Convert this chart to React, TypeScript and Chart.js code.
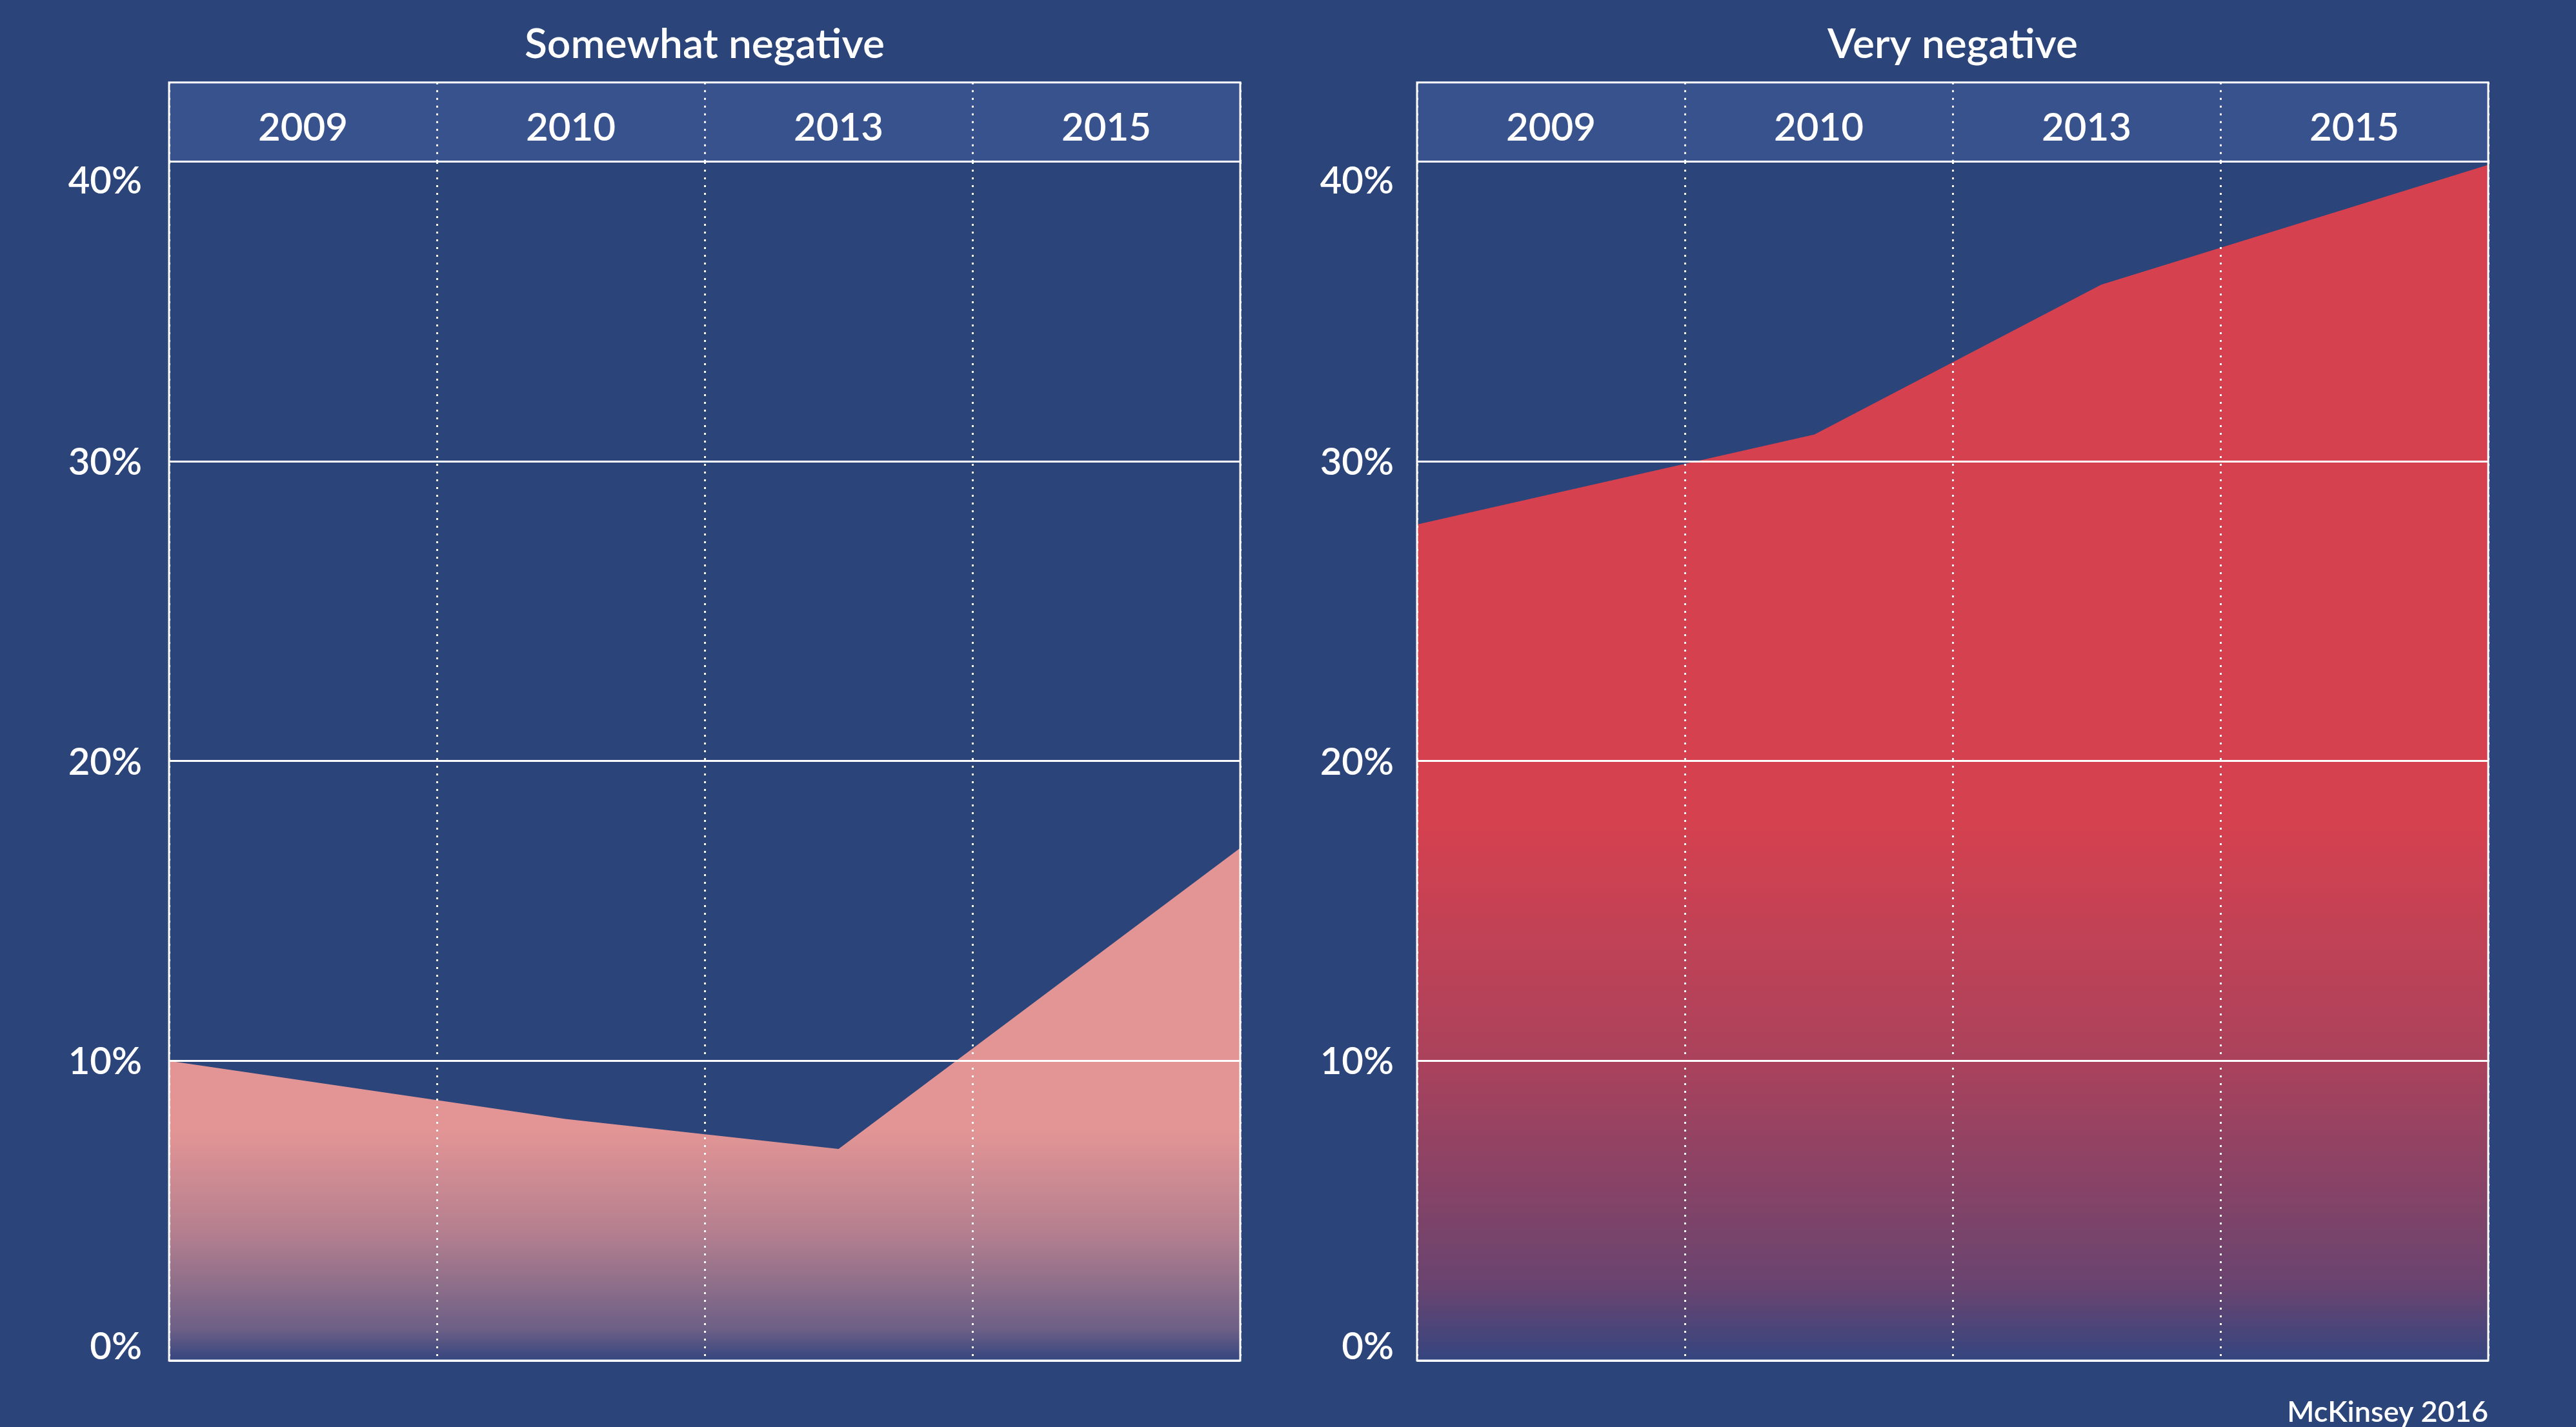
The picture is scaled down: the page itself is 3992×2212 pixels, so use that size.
import React, { useEffect, useRef } from 'react';
import { Chart, registerables } from 'chart.js';

Chart.register(...registerables);

// Column headers shared by both panels
const years = ['2009', '2010', '2013', '2015'];

// Percentage axis
const yMin = 0;
const yMax = 40;
const yStep = 10;

// "Somewhat negative" series: position along the 4 year columns and share (%)
const somewhatPos = [0, 1.48, 2.5, 4];
const somewhatValues = [10.0, 8.06, 7.06, 17.1];

// "Very negative" series
const veryPos = [0, 1.484, 2.555, 4];
const veryValues = [27.9, 30.9, 35.9, 39.9];

const FONT = "Lato, 'Open Sans', 'DejaVu Sans', sans-serif";
const WEIGHT = '600';
const BG = '#2B4479';
const HEADER_BG = '#38528E';
const FADE_BASE = '#34457F';
const WHITE = '#FFFFFF';

// Vertical fade of the area fill: [position from baseline (0) to series peak (1), share of base colour]
const fadeStops: [number, number][] = [
  [0, 1],
  [0.06, 0.68],
  [0.15, 0.48],
  [0.25, 0.27],
  [0.45, 0],
  [1, 0],
];

const CANVAS_W = 1996;
const CANVAS_H = 2212;
const HEADER_H = 123;

function hexToRgb(hex: string) {
  const h = hex.replace('#', '');
  return [0, 2, 4].map((i) => parseInt(h.slice(i, i + 2), 16));
}

function mix(a: string, b: string, t: number) {
  const ca = hexToRgb(a);
  const cb = hexToRgb(b);
  const c = ca.map((v, i) => Math.round(v * (1 - t) + cb[i] * t));
  return `rgb(${c[0]}, ${c[1]}, ${c[2]})`;
}

// Draws the header band, the white frame and the clamped percentage labels
const panelFrame = {
  id: 'panelFrame',
  beforeDraw(chart: any) {
    const { ctx, chartArea } = chart;
    const top = chart.scales.xTop;
    if (!chartArea || !top) return;
    ctx.save();
    ctx.fillStyle = HEADER_BG;
    ctx.fillRect(chartArea.left, top.top, chartArea.right - chartArea.left, top.bottom - top.top);
    ctx.restore();
  },
  afterDraw(chart: any, _args: any, opts: any) {
    const { ctx, chartArea } = chart;
    const top = chart.scales.xTop;
    const y = chart.scales.y;
    if (!chartArea || !top || !y) return;
    ctx.save();
    ctx.strokeStyle = WHITE;
    ctx.lineWidth = 3;
    ctx.strokeRect(chartArea.left, top.top, chartArea.right - chartArea.left, chartArea.bottom - top.top);

    const size = opts.labelSize || 58;
    const capH = 0.72 * size;
    ctx.fillStyle = WHITE;
    ctx.font = `${WEIGHT} ${size}px ${FONT}`;
    ctx.textAlign = 'right';
    ctx.textBaseline = 'alphabetic';
    y.ticks.forEach((t: any) => {
      const px = y.getPixelForValue(t.value);
      let base = px + capH / 2;
      base = Math.max(base, chartArea.top + 7 + capH);
      base = Math.min(base, chartArea.bottom - 2);
      ctx.fillText(`${t.value}%`, chartArea.left - opts.labelGap, base);
    });
    ctx.restore();
  },
};

type PanelProps = {
  title: string;
  pos: number[];
  values: number[];
  color: string;
  padLeft: number;
  padRight: number;
  labelGap: number;
  footer?: string;
};

function Panel({ title, pos, values, color, padLeft, padRight, labelGap, footer }: PanelProps) {
  const ref = useRef<HTMLCanvasElement | null>(null);

  useEffect(() => {
    if (!ref.current) return;
    const peak = Math.max(...values);
    const chart = new Chart(ref.current, {
      type: 'line',
      data: {
        datasets: [
          {
            data: pos.map((x, i) => ({ x, y: values[i] })),
            borderWidth: 0,
            pointRadius: 0,
            tension: 0,
            fill: 'origin',
            backgroundColor: (ctx: any) => {
              const c = ctx.chart;
              const area = c.chartArea;
              const ys = c.scales && c.scales.y;
              if (!area || !ys) return color;
              const yBot = ys.getPixelForValue(0);
              const yTop = ys.getPixelForValue(peak);
              const g = c.ctx.createLinearGradient(0, yBot, 0, yTop);
              fadeStops.forEach(([p, b]) => g.addColorStop(p, mix(color, FADE_BASE, b)));
              return g;
            },
          },
        ],
      },
      options: {
        responsive: false,
        animation: false,
        devicePixelRatio: 1,
        layout: {
          padding: { left: padLeft, right: padRight, top: 0, bottom: footer ? 0 : 103 },
        },
        plugins: {
          legend: { display: false },
          tooltip: { enabled: false },
          title: {
            display: true,
            text: title,
            color: WHITE,
            font: { family: FONT, size: 64, weight: WEIGHT, lineHeight: 1.2 },
            padding: { top: 31, bottom: 20 },
          },
          subtitle: footer
            ? {
                display: true,
                text: footer,
                position: 'bottom',
                align: 'end',
                color: WHITE,
                font: { family: FONT, size: 45, weight: WEIGHT, lineHeight: 1 },
                padding: { top: 58, bottom: 0 },
              }
            : { display: false },
          panelFrame: { labelGap, labelSize: 58 },
        } as any,
        scales: {
          x: { type: 'linear', min: 0, max: years.length, display: false },
          xTop: {
            type: 'category',
            labels: years,
            position: 'top',
            offset: true,
            grid: {
              display: true,
              offset: true,
              color: WHITE,
              lineWidth: 3,
              drawOnChartArea: true,
              drawTicks: true,
              tickLength: HEADER_H,
              tickColor: WHITE,
              tickWidth: 3,
              tickBorderDash: [3, 9],
              z: 1,
            },
            border: { display: false, dash: [3, 9] },
            ticks: {
              color: WHITE,
              font: { family: FONT, size: 60, weight: WEIGHT, lineHeight: 1.2 },
              padding: -107,
              maxRotation: 0,
              autoSkip: false,
            },
            afterFit: (s: any) => {
              s.height = HEADER_H;
            },
          },
          y: {
            type: 'linear',
            min: yMin,
            max: yMax,
            ticks: { stepSize: yStep, display: false, callback: (v: any) => `${v}%` },
            grid: { color: WHITE, lineWidth: 3, drawTicks: false, z: 1 },
            border: { display: false },
            afterFit: (s: any) => {
              s.width = 0;
            },
          },
        } as any,
      },
      plugins: [panelFrame],
    });
    return () => chart.destroy();
  }, []);

  return <canvas ref={ref} width={CANVAS_W} height={CANVAS_H} style={{ display: 'block', width: CANVAS_W, height: CANVAS_H }} />;
}

export default function App() {
  useEffect(() => {
    document.body.style.margin = '0';
    document.body.style.background = BG;
  }, []);

  return (
    <div style={{ position: 'relative', width: 3992, height: 2212, background: BG, overflow: 'hidden' }}>
      <div style={{ position: 'absolute', left: 0, top: 0 }}>
        <Panel
          title="Somewhat negative"
          pos={somewhatPos}
          values={somewhatValues}
          color="#E39595"
          padLeft={262}
          padRight={CANVAS_W - 1922}
          labelGap={42}
        />
      </div>
      <div style={{ position: 'absolute', left: CANVAS_W, top: 0 }}>
        <Panel
          title="Very negative"
          pos={veryPos}
          values={veryValues}
          color="#D5414F"
          padLeft={2196 - CANVAS_W}
          padRight={2 * CANVAS_W - 3856}
          labelGap={36}
          footer="McKinsey 2016"
        />
      </div>
    </div>
  );
}
